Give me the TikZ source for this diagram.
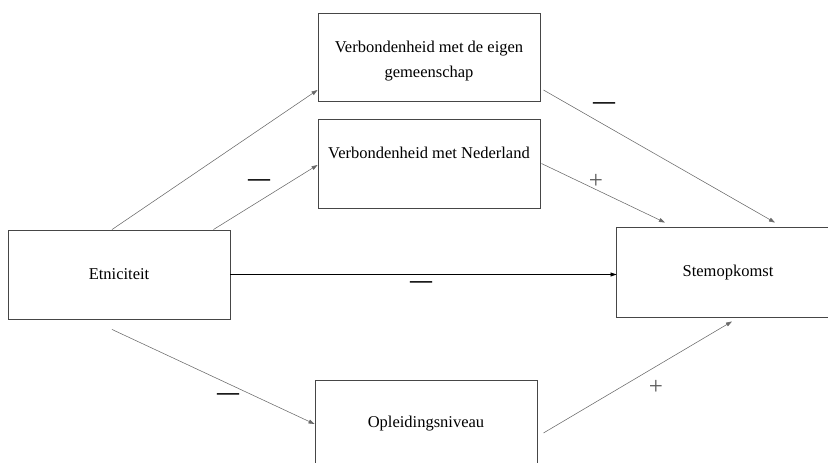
\documentclass[tikz,border=0pt]{standalone}
\usepackage{fontspec}
\setmainfont{Liberation Serif}
\usepackage{xcolor}
\definecolor{boxgray}{RGB}{70, 70, 70}
\definecolor{linegray}{RGB}{105, 105, 105}
\definecolor{signgray}{RGB}{90, 90, 90}
\usetikzlibrary{arrows.meta}

\tikzset{
    varbox/.style={draw=boxgray, line width=0.9pt, minimum width=222pt,
        minimum height=88pt, align=center,
        font=\fontsize{16.5}{25}\selectfont},
    pad/.style={linegray, line width=0.55pt,
        -{Triangle[length=6pt, width=4pt]}},
    minteken/.style={font=\fontsize{22}{22}\selectfont\bfseries},
    plusteken/.style={signgray, font=\fontsize{25}{25}\selectfont}
}

\begin{document}
\begin{tikzpicture}[x=1pt, y=-1pt]

\useasboundingbox (0,0) rectangle (828,463);

% === Variabelen ===
\node[varbox, text height=45pt] (gem) at (429, 57)
    {Verbondenheid met de eigen\\gemeenschap};
\node[varbox, minimum height=89pt, text depth=22pt] (ned) at (429, 163.5)
    {Verbondenheid met Nederland};
\node[varbox, minimum height=89pt] (etn) at (119, 274.5) {Etniciteit};
\node[varbox, draw=none, minimum height=89pt] (stem) at (728, 272.5)
    {Stemopkomst};
\node[varbox] (opl) at (426, 424) {Opleidingsniveau};

% rand van stemopkomst, rechts open (valt buiten de rand)
\draw[boxgray, line width=0.9pt] ([xshift=20pt]stem.north east)
    -- (stem.north west) -- (stem.south west)
    -- ([xshift=20pt]stem.south east);

% === Paden vanuit etniciteit ===
\draw[pad] ([xshift=-7pt]etn.north) -- ([yshift=-33pt]gem.west);
\draw[pad] ([xshift=-17pt]etn.north east) -- ([yshift=-1.5pt]ned.west);
\draw[pad, black, line width=0.7pt] (etn.east) -- (etn.east -| stem.west);
\draw[pad] ([xshift=-7pt, yshift=-10pt]etn.south) -- (opl.west);

% === Paden naar stemopkomst ===
\draw[pad] ([xshift=3pt, yshift=-33pt]gem.east)
    -- ([xshift=47pt, yshift=5pt]stem.north);
\draw[pad] ([xshift=1pt]ned.east) -- ([xshift=-63pt, yshift=5pt]stem.north);
\draw[pad] ([xshift=6pt, yshift=-9pt]opl.east)
    -- ([xshift=4pt, yshift=-4pt]stem.south);

% === Tekens bij de paden ===
\node[minteken] (min1) at (259, 183) {—};
\node[minteken] (min2) at (228, 397) {—};
\node[minteken] (min3) at (421, 285) {—};
\node[minteken] (min4) at (604, 106) {—};
\node[plusteken] (plus1) at (596, 181) {+};
\node[plusteken] (plus2) at (656, 387) {+};

\end{tikzpicture}
\end{document}
